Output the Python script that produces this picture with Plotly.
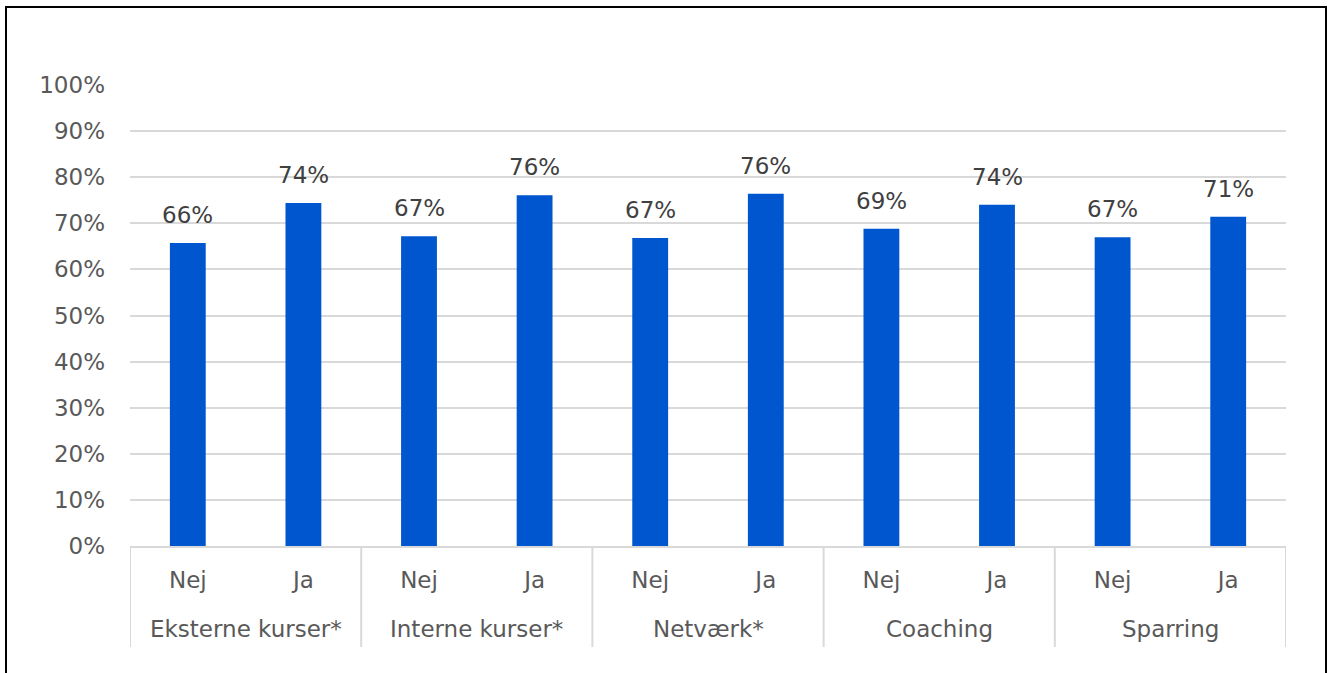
import plotly.graph_objects as go

groups = ["Eksterne kurser*", "Interne kurser*", "Netværk*", "Coaching", "Sparring"]
answers = ["Nej", "Ja"] * 5
values = [0.657, 0.744, 0.672, 0.761, 0.668, 0.764, 0.688, 0.740, 0.670, 0.714]
labels = ["66%", "74%", "67%", "76%", "67%", "76%", "69%", "74%", "67%", "71%"]

FONT = "DejaVu Sans"
GRAY = "#595959"
LINE = "#d9d9d9"

W, H = 1328, 673
L, R, T, B = 130, 42, 85, 127
PW, PH = W - L - R, H - T - B

def px_to_py(ypx):
    return (H - B - ypx) / PH

def px_to_px(xpx):
    return (xpx - L) / PW

xs = list(range(len(values)))

fig = go.Figure()
fig.add_trace(go.Bar(
    x=xs, y=values, marker_color="#0056CE", width=0.31, marker_line_width=0,
    hoverinfo="skip",
))

for x, v, t in zip(xs, values, labels):
    fig.add_annotation(
        xref="x", yref="y", x=x, y=v, text=t, showarrow=False,
        yanchor="bottom", yshift=13,
        font=dict(family=FONT, size=23, color="#404040"),
    )

for i, g in enumerate(groups):
    fig.add_annotation(
        xref="x", yref="paper", x=2 * i + 0.5, y=px_to_py(629), text=g,
        showarrow=False, yanchor="middle",
        font=dict(family=FONT, size=23, color=GRAY),
    )

shapes = []
for i in range(len(groups) + 1):
    xd = 2 * i - 0.5
    shapes.append(dict(type="line", xref="x", yref="paper", x0=xd, x1=xd,
                       y0=0, y1=px_to_py(647), line=dict(color=LINE, width=2)))
shapes.append(dict(type="rect", xref="paper", yref="paper",
                   x0=px_to_px(6), x1=px_to_px(1326),
                   y0=px_to_py(700), y1=px_to_py(7),
                   line=dict(color="black", width=2), layer="above"))

fig.update_layout(
    width=W, height=H,
    margin=dict(l=L, r=R, t=T, b=B),
    paper_bgcolor="white", plot_bgcolor="white",
    showlegend=False,
    font=dict(family=FONT, size=23, color=GRAY),
    yaxis=dict(range=[0, 1], dtick=0.1, tickformat=".0%", showgrid=True,
               gridcolor=LINE, gridwidth=2, zeroline=False, fixedrange=True,
               ticklabelstandoff=24, tickfont=dict(family=FONT, size=23, color=GRAY)),
    xaxis=dict(range=[-0.5, 9.5], tickmode="array", tickvals=xs, ticktext=answers,
               showgrid=False, zeroline=False, showline=True, linecolor=LINE,
               linewidth=2, ticks="", ticklabelstandoff=12, fixedrange=True,
               tickfont=dict(family=FONT, size=23, color=GRAY)),
    shapes=shapes,
)

fig.write_html("out.html", config={"displayModeBar": False},
               post_script="document.body.style.margin='0';")
